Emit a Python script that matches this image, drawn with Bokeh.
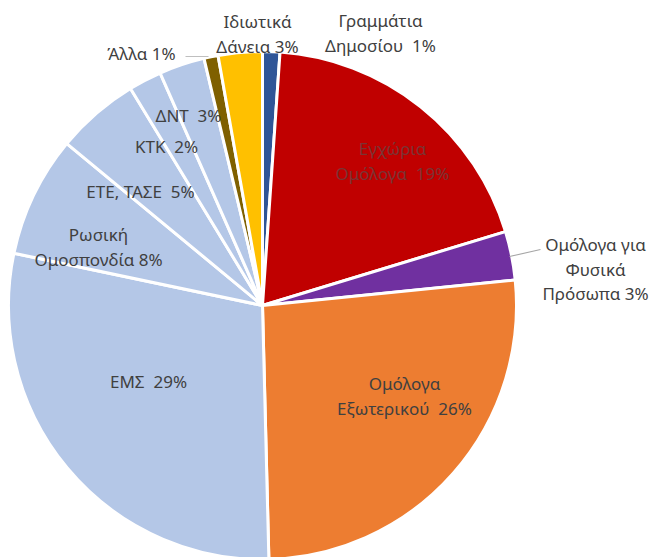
import numpy as np
from bokeh.plotting import figure
from bokeh.models import Range1d, ColumnDataSource
from bokeh.core.properties import value
from bokeh.embed import file_html
from bokeh.resources import INLINE

NB = "\u00a0"

# ---- data (clockwise from 12 o'clock) ----
categories = ["Γραμμάτια Δημοσίου", "Εγχώρια Ομόλογα", "Ομόλογα για Φυσικά Πρόσωπα",
              "Ομόλογα Εξωτερικού", "ΕΜΣ", "Ρωσική Ομοσπονδία", "ΕΤΕ, ΤΑΣΕ", "ΚΤΚ",
              "ΔΝΤ", "Άλλα", "Ιδιωτικά Δάνεια"]
shares = [1.1, 19.2, 3.1, 26.2, 28.7, 7.7, 5.3, 2.1, 2.9, 0.9, 2.8]
label_lines = [["Γραμμάτια", "Δημοσίου" + NB + " 1%"], ["Εγχώρια", "Ομόλογα" + NB + " 19%"],
               ["Ομόλογα για", "Φυσικά", "Πρόσωπα 3%"], ["Ομόλογα", "Εξωτερικού" + NB + " 26%"],
               ["ΕΜΣ" + NB + " 29%"], ["Ρωσική", "Ομοσπονδία 8%"], ["ΕΤΕ, ΤΑΣΕ" + NB + " 5%"],
               ["ΚΤΚ" + NB + " 2%"], ["ΔΝΤ" + NB + " 3%"], ["Άλλα 1%"], ["Ιδιωτικά", "Δάνεια 3%"]]

# ---- styles / layout ----
colors = ["#2F5597", "#C00000", "#7030A0", "#ED7D31", "#B4C7E7", "#B4C7E7",
          "#B4C7E7", "#B4C7E7", "#B4C7E7", "#7F6000", "#FFC000"]
label_colors = ["#404040", "#7A3434", "#404040", "#404040", "#404040", "#404040",
                "#404040", "#404040", "#404040", "#404040", "#404040"]
# pixel centers of each label (first line), line spacing 25px
label_pos = [(380, 20), (392, 148), (595, 244), (404, 383), (148, 381), (98, 234),
             (140, 191), (166, 146), (188, 115), (141, 53), (257, 21)]
LINE_STEP = 24.5
W, H = 652, 557
CX, CY, R = 262, 305, 254


def px(X):
    return X


def py(Y):
    return H - Y


p = figure(width=W, height=H, output_backend="svg", toolbar_location=None,
           x_range=Range1d(0, W), y_range=Range1d(0, H), min_border=0)
p.axis.visible = False
p.grid.visible = False
p.outline_line_color = None
p.background_fill_color = "white"
p.border_fill_color = "white"

frac = np.array(shares) / np.sum(shares)
cum = np.concatenate([[0], np.cumsum(frac)])
start = np.pi / 2 - 2 * np.pi * cum[:-1]
end = np.pi / 2 - 2 * np.pi * cum[1:]

src = ColumnDataSource(dict(start=start, end=end, color=colors, cat=categories))
p.wedge(x=px(CX), y=py(CY), radius=R, start_angle="start", end_angle="end",
        direction="clock", fill_color="color", line_color="white", line_width=3,
        source=src)

# leader lines
p.line(x=[px(185), px(208)], y=[py(56), py(56)], line_color="#BFBFBF", line_width=1.2)
p.line(x=[px(509), px(540)], y=[py(256), py(249)], line_color="#A6A6A6", line_width=1.2)

tx, ty, tt, tc = [], [], [], []
for lines, (X, Y), c in zip(label_lines, label_pos, label_colors):
    for i, ln in enumerate(lines):
        tx.append(px(X))
        ty.append(py(Y + i * LINE_STEP))
        tt.append(ln)
        tc.append(c)

p.text(x=tx, y=ty, text=tt, text_color=tc, text_align="center", text_baseline="middle",
       text_font=value("Noto Sans"), text_font_size="17px")

open("out.html", "w").write(file_html(p, INLINE))
